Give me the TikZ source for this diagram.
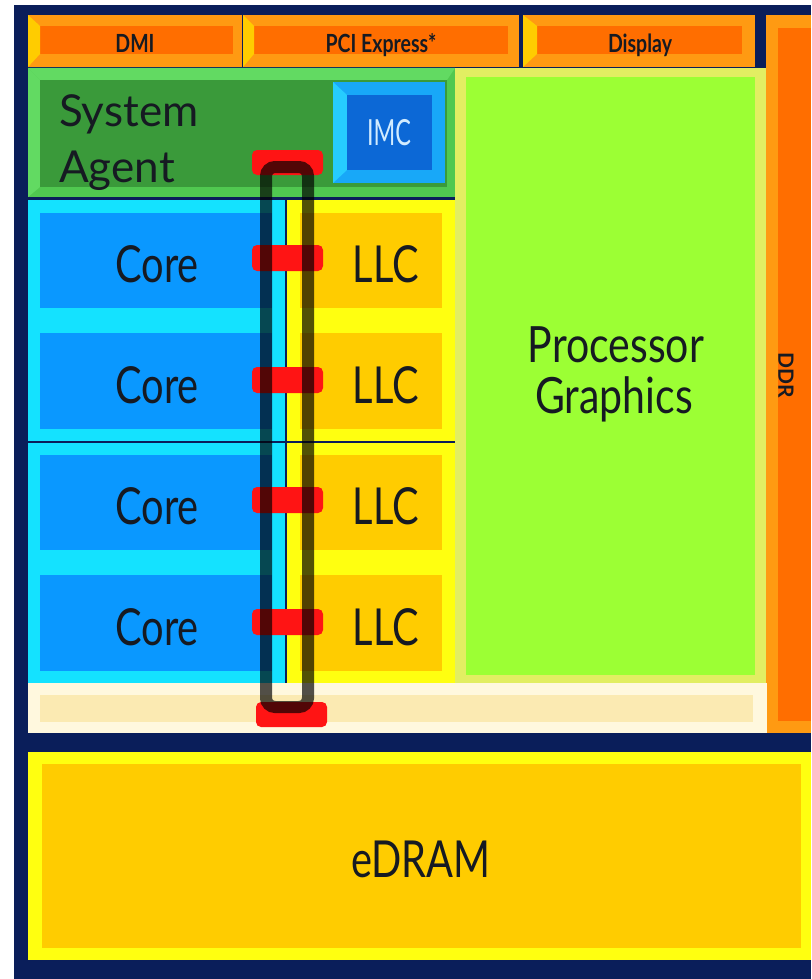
\documentclass[tikz,border=0pt]{standalone}
\usepackage{fontspec}
\newfontfamily\cf[FakeStretch=0.78]{Lato}
\newfontfamily\cfn[FakeStretch=0.65]{Lato}
\newfontfamily\cfm[FakeStretch=0.82]{Lato}
\newfontfamily\cfw[FakeStretch=1.0]{Lato}
\definecolor{navy}{HTML}{0A1E5A}
\definecolor{orO}{HTML}{FF9A12}
\definecolor{orI}{HTML}{FF6E00}
\definecolor{grO}{HTML}{50C850}
\definecolor{grL}{HTML}{62DA62}
\definecolor{grI}{HTML}{3A9A3A}
\definecolor{imO}{HTML}{18A8F8}
\definecolor{imL}{HTML}{26CCFF}
\definecolor{imI}{HTML}{0C68D6}
\definecolor{imtxt}{HTML}{D2ECFF}
\definecolor{coO}{HTML}{14E2FF}
\definecolor{coI}{HTML}{0A98FF}
\definecolor{llO}{HTML}{FFFF10}
\definecolor{llI}{HTML}{FFCC00}
\definecolor{pgO}{HTML}{E2EE62}
\definecolor{pgI}{HTML}{9CFF34}
\definecolor{crO}{HTML}{FFF8DE}
\definecolor{crI}{HTML}{FBEAB2}
\definecolor{txt}{HTML}{161A22}
\definecolor{stopred}{HTML}{FF1414}
\tikzset{
  lab/.style={inner sep=0pt, text=txt, anchor=base},
  barlab/.style={lab, font=\cf\bfseries\fontsize{25}{28}\selectfont},
  big/.style={lab, font=\cf\fontsize{51}{56}\selectfont},
  mid/.style={lab, font=\cfm\fontsize{50}{56}\selectfont},
  salab/.style={lab, anchor=base west, font=\cfw\fontsize{44}{50}\selectfont},
  ringstop/.style={fill=stopred, rounded corners=5pt},
  ring/.style={draw=black, draw opacity=0.68, line width=12pt, rounded corners=9pt},
  divider/.style={draw=navy, line width=2.5pt}
}
\begin{document}
\begin{tikzpicture}[x=1pt,y=-1pt]
\useasboundingbox (0,0) rectangle (811,979);
\fill[white] (0,0) rectangle (811,979);
\fill[navy] (14,5) rectangle (811,979);
% top bars
\fill[orO] (28,15) rectangle (242,67);  \fill[orI] (40,26) rectangle (233,54);
\fill[llI] (28,15) -- (40,26) -- (40,54) -- (28,67) -- cycle;
\fill[orO] (243,15) rectangle (519,67); \fill[orI] (254,26) rectangle (508,54);
\fill[llI] (243,15) -- (254,26) -- (254,54) -- (243,67) -- cycle;
\fill[orO] (523,15) rectangle (755,67); \fill[orI] (537,26) rectangle (742,54);
\fill[llI] (523,15) -- (537,26) -- (537,54) -- (523,67) -- cycle;
\node[barlab] (dmi) at (135,53) {DMI};
\node[barlab] (pcie) at (381,53) {PCI Express*};
\node[barlab] (disp) at (640,53) {Display};
% DDR
\fill[orO] (766,15) rectangle (811,733); \fill[orI] (778,28) rectangle (811,721);
\node[lab, anchor=center, rotate=-90, font=\cfw\bfseries\fontsize{21}{24}\selectfont] (ddr) at (786,375) {DDR};
% system agent
\fill[grO] (28,68) rectangle (455,197);
\fill[grL] (28,68) -- (455,68) -- (447,80) -- (40,80) -- cycle;
\fill[grL] (28,68) -- (40,80) -- (40,187) -- (28,197) -- cycle;
\fill[grI] (40,80) rectangle (447,187);
\node[salab] (sys) at (59,127) {System};
\node[salab] (agent) at (59,182) {Agent};
\fill[imO] (333,82) rectangle (445,183);
\fill[imL] (333,82) -- (347,95) -- (347,170) -- (333,183) -- cycle;
\fill[imI] (347,95) rectangle (432,170);
\node[lab, text=imtxt, font=\cfn\fontsize{36}{40}\selectfont] (imc) at (389,145) {IMC};
% processor graphics
\fill[pgO] (455,68) rectangle (766,683); \fill[pgI] (466,77) rectangle (755,675);
\node[mid] (proc) at (616,362) {Processor};
\node[mid] (gfx) at (614,413) {Graphics};
% cores and LLC
\foreach \i/\t/\b/\it/\ib/\bl in {1/200/320/213/308/282, 2/320/442/333/429/403, 3/442/563/455/550/524, 4/563/683/575/671/645}{
  \fill[coO] (28,\t) rectangle (286,\b); \fill[coI] (40,\it) rectangle (272,\ib);
  \fill[llO] (286,\t) rectangle (455,\b); \fill[llI] (300,\it) rectangle (442,\ib);
  \node[big] (core\i) at (157,\bl) {Core};
  \node[big] (llc\i) at (386,\bl) {LLC};
}
\draw[divider] (28,199) -- (455,199);
\draw[divider] (28,442) -- (455,442);
\draw[divider] (286,199) -- (286,683);
% cream bar
\fill[crO] (28,683) rectangle (767,733); \fill[crI] (40,695) rectangle (753,722);
% eDRAM
\fill[llO] (28,752) rectangle (811,960); \fill[llI] (42,764) rectangle (801,948);
\node[big] (edram) at (421,877) {eDRAM};
% ring stops
\fill[ringstop] (252,150) rectangle (323,175);
\foreach \y in {258,380,500,622}{\fill[ringstop] (252,\y-13) rectangle (323,\y+13);}
\fill[ringstop] (256,702) rectangle (327,727);
\draw[ring] (266,167) rectangle (308,707);
\end{tikzpicture}
\end{document}
